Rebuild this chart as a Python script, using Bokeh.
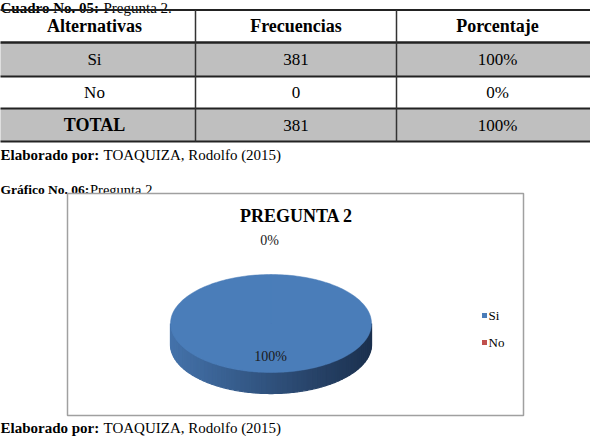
import numpy as np
from bokeh.plotting import figure
from bokeh.models import Range1d
from bokeh.core.properties import value
from bokeh.embed import file_html
from bokeh.resources import INLINE

# ---------------- data ----------------
headers = ["Alternativas", "Frecuencias", "Porcentaje"]
alternativas = ["Si", "No"]
frecuencias = [381, 0]
porcentajes = ["100%", "0%"]
total_label = "TOTAL"
total_frec = 381
total_pct = "100%"
chart_title = "PREGUNTA 2"
slice_colors = ["#4a7db9", "#c0504d"]

# ---------------- page ----------------
W, H = 590, 436
p = figure(width=W, height=H, x_range=Range1d(0, W), y_range=Range1d(H, 0),
           output_backend="svg", toolbar_location=None, min_border=0,
           x_axis_location=None, y_axis_location=None)
p.grid.visible = False
p.outline_line_color = None
p.background_fill_color = "white"
p.border_fill_color = "white"

SERIF = value("Liberation Serif")


def txt(x, y, s, size, bold=False, align="left", baseline="alphabetic", color="#000000"):
    p.text(x=[x], y=[y], text=[s], text_font=SERIF, text_font_size=f"{size}px",
           text_font_style="bold" if bold else "normal", text_align=align,
           text_baseline=baseline, text_color=color)


# ---------------- caption above table ----------------
txt(0, 7, "Cuadro No. 05:", 15, bold=True)
txt(103, 7, "Pregunta 2.", 15)

# ---------------- table ----------------
col_edges = [-7, 195, 396, 598]
row_edges = [9.5, 42, 76, 108, 141]
col_centers = [(col_edges[i] + col_edges[i + 1]) / 2 for i in range(3)]
row_centers = [(row_edges[i] + row_edges[i + 1]) / 2 for i in range(4)]

# shaded rows (Si row and TOTAL row)
p.quad(left=[col_edges[0]] * 2, right=[col_edges[-1]] * 2,
       top=[row_edges[1], row_edges[3]], bottom=[row_edges[2], row_edges[4]],
       fill_color="#bfbfbf", line_color=None)

# horizontal rules
hw = [2, 2.5, 2, 2, 2]
for y, w in zip(row_edges, hw):
    p.segment(x0=[col_edges[0]], y0=[y], x1=[col_edges[-1]], y1=[y],
              line_color="#222222", line_width=w)
# vertical rules
for x in col_edges[1:-1]:
    p.segment(x0=[x], y0=[row_edges[0]], x1=[x], y1=[row_edges[-1]],
              line_color="#333333", line_width=1.5)

for i, h in enumerate(headers):
    txt(col_centers[i], row_centers[0], h, 18, bold=True, align="center", baseline="middle")

rows = list(zip(alternativas, [str(v) for v in frecuencias], porcentajes))
for r, row in enumerate(rows):
    for c, s in enumerate(row):
        txt(col_centers[c], row_centers[r + 1], s, 17, align="center", baseline="middle")

txt(col_centers[0], row_centers[3], total_label, 18, bold=True, align="center", baseline="middle")
txt(col_centers[1], row_centers[3], str(total_frec), 17, align="center", baseline="middle")
txt(col_centers[2], row_centers[3], total_pct, 17, align="center", baseline="middle")

# ---------------- captions between ----------------
txt(0, 154, "Elaborado por:", 15, bold=True)
txt(103, 154, "TOAQUIZA, Rodolfo (2015)", 15)

txt(0, 189, "Gráfico No. 06:", 13.5, bold=True)
txt(89.5, 189, "Pregunta 2.", 14.5)

txt(0, 427, "Elaborado por:", 15, bold=True)
txt(103, 427, "TOAQUIZA, Rodolfo (2015)", 15)

# ---------------- chart box ----------------
p.quad(left=[67], right=[523], top=[193], bottom=[415],
       fill_color="white", line_color="#a0a0a0", line_width=1.5)
txt(296, 215, chart_title, 18, bold=True, align="center", baseline="middle")

# ---------------- 3D pie ----------------
cx, cy, rx, ry, depth = 270.5, 323, 100.5, 49, 21
vals = np.array(frecuencias, dtype=float)
fracs = vals / vals.sum()
starts = -np.pi / 2 + 2 * np.pi * np.concatenate([[0], np.cumsum(fracs)[:-1]])
ends = starts + 2 * np.pi * fracs

left_rgb = np.array([0x44, 0x72, 0xaa])
right_rgb = np.array([0x1b, 0x30, 0x4e])


def shade(t):
    k = (np.cos(t) + 1) / 2  # 0 at left, 1 at right
    c = left_rgb + (right_rgb - left_rgb) * k
    return "#%02x%02x%02x" % tuple(int(round(v)) for v in c)


# side band (front half)
sxs, sys_, scol = [], [], []
for a0, a1 in zip(starts, ends):
    for k in (0.0, 2 * np.pi):
        lo, hi = max(a0, k), min(a1, k + np.pi)
        if hi <= lo:
            continue
        ts = np.linspace(lo, hi, 61)
        for t0, t1 in zip(ts[:-1], ts[1:]):
            tt = np.linspace(t0, t1, 4)
            xe = cx + rx * np.cos(tt)
            ye = cy + ry * np.sin(tt)
            sxs.append(list(xe) + list(xe[::-1]))
            sys_.append(list(ye) + list(ye[::-1] + depth))
            scol.append(shade((t0 + t1) / 2))
p.patches(xs=sxs, ys=sys_, fill_color=scol, line_color=scol, line_width=1.3)

# top faces
txs, tys, tcol = [], [], []
for a0, a1, col in zip(starts, ends, slice_colors):
    if a1 - a0 <= 0:
        continue
    tt = np.linspace(a0, a1, 241)
    txs.append([cx] + list(cx + rx * np.cos(tt)))
    tys.append([cy] + list(cy + ry * np.sin(tt)))
    tcol.append(col)
p.patches(xs=txs, ys=tys, fill_color=tcol, line_color=tcol, line_width=0.5)

# data labels
label_pos = [(270, 356), (269, 240)]
for f, (lx, ly) in zip(fracs, label_pos):
    txt(lx, ly, f"{round(f * 100)}%", 14, align="center", baseline="middle", color="#1a1a1a")

# legend
leg_x, leg_y = 484, [315, 342]
p.scatter(x=[leg_x] * len(alternativas), y=leg_y, marker="square", size=5,
          fill_color=slice_colors, line_color=None)
for name, ly in zip(alternativas, leg_y):
    txt(leg_x + 4, ly, name, 13, baseline="middle")

open("out.html", "w").write(file_html(p, INLINE))
